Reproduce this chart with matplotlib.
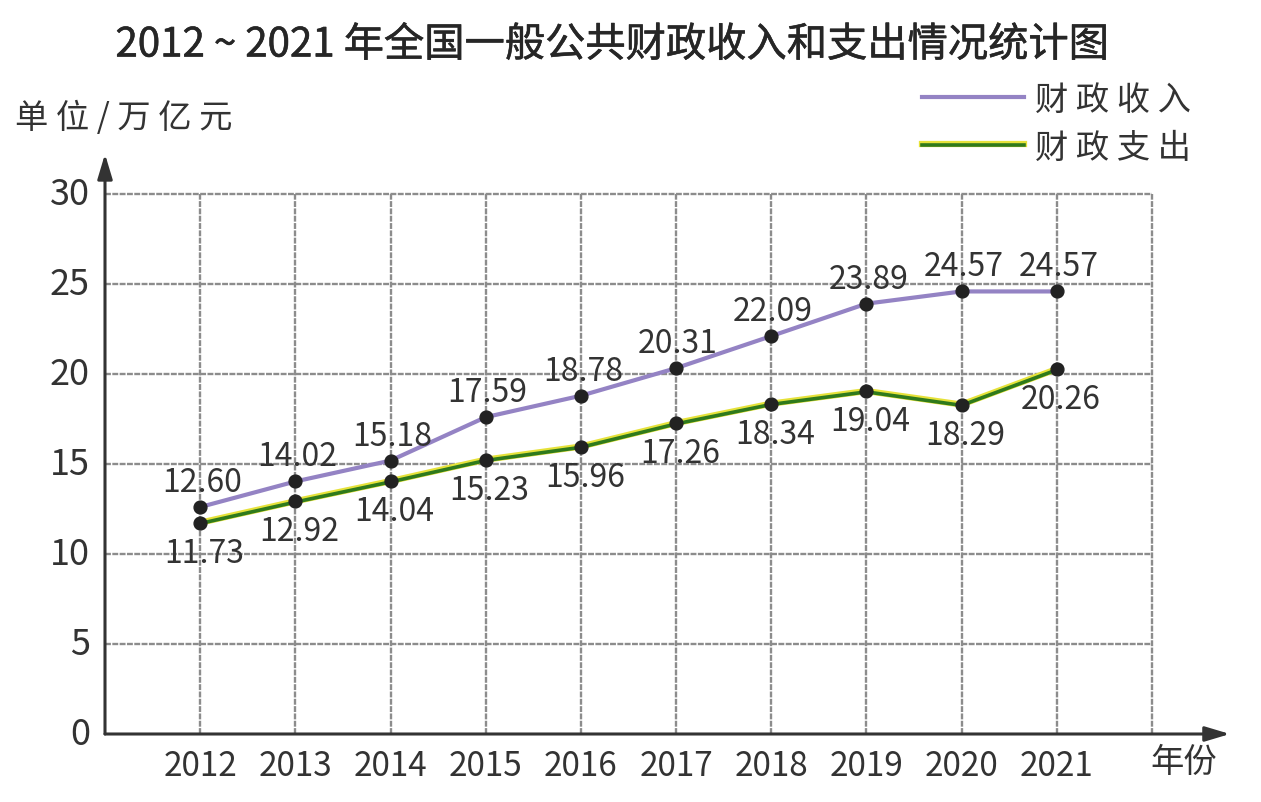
import numpy as np
import matplotlib
matplotlib.use('Agg')
import matplotlib.pyplot as plt
from matplotlib.lines import Line2D
import matplotlib.transforms as mtransforms
import matplotlib.patheffects as pe

plt.rcParams['font.family'] = ['Noto Sans CJK SC', 'DejaVu Sans']

# 数据
years = [2012, 2013, 2014, 2015, 2016, 2017, 2018, 2019, 2020, 2021]
income = [12.60, 14.02, 15.18, 17.59, 18.78, 20.31, 22.09, 23.89, 24.57, 24.57]
expense = [11.73, 12.92, 14.04, 15.23, 15.96, 17.26, 18.34, 19.04, 18.29, 20.26]
y_ticks = [0, 5, 10, 15, 20, 25, 30]

W, H = 1261, 803
fig = plt.figure(figsize=(W / 100, H / 100), dpi=100)
fig.patch.set_facecolor('white')

# 坐标轴区域 (像素换算)
x0, y0, x1, y1 = 105, 735, 1228, 155
ax = fig.add_axes([x0 / W, 1 - y0 / H, (x1 - x0) / W, (y0 - y1) / H])
ax.set_xlim(2011, 2022.8)
ax.set_ylim(0, 32.2)
ax.axis('off')

grid_c = '#8c8c8c'
# 网格线
for yv in y_ticks[1:]:
    ax.plot([2011, 2022], [yv, yv], color=grid_c, lw=1.7, ls=(0, (2.5, 0.6)), zorder=1)
for xv in years + [2022]:
    ax.plot([xv, xv], [0, 30], color=grid_c, lw=1.7, ls=(0, (2.5, 0.6)), zorder=1)

# 坐标轴箭头
ax_c = '#333333'
ax.annotate('', xy=(2022.82, 0), xytext=(2011, 0), annotation_clip=False,
            arrowprops=dict(arrowstyle='-|>,head_length=1.5,head_width=0.45', color=ax_c, lw=2.2,
                            shrinkA=0, shrinkB=0),
            zorder=3)
ax.annotate('', xy=(2011, 32.2), xytext=(2011, 0), annotation_clip=False,
            arrowprops=dict(arrowstyle='-|>,head_length=1.5,head_width=0.45', color=ax_c, lw=2.2,
                            shrinkA=0, shrinkB=0),
            zorder=3)

# y 轴刻度
for yv in y_ticks:
    ax.text(2010.84, yv, str(yv), ha='right', va='center', fontsize=26, color='#333333')
# x 轴刻度
for xv in years:
    ax.text(xv, -1.75, str(xv), ha='center', va='center', fontsize=24, color='#333333')
ax.text(2022.33, -1.5, '年份', ha='center', va='center', fontsize=24, color='#333333')

purple = '#9483c4'
yellow = '#e6e23a'
green = '#2f7a1c'

# 财政收入
ax.plot(years, income, color=purple, lw=3, zorder=4)
# 财政支出 (黄边绿线)
ax.plot(years, expense, color=yellow, lw=4.5, zorder=4)
off = mtransforms.offset_copy(ax.transData, fig=fig, x=0, y=-0.8, units='dots')
ax.plot(years, expense, color=green, lw=2.6, zorder=5, transform=off)

ax.scatter(years, income, s=85, color='#222222', zorder=6)
ax.scatter(years, expense, s=85, color='#222222', zorder=6)

for xv, v in zip(years, income):
    ax.annotate(f'{v:.2f}', (xv, v), xytext=(2, 25), textcoords='offset pixels',
                ha='center', va='center', fontsize=23, color='#333333', zorder=7)
for xv, v in zip(years, expense):
    ax.annotate(f'{v:.2f}', (xv, v), xytext=(4, -30), textcoords='offset pixels',
                ha='center', va='center', fontsize=23, color='#333333', zorder=7)

# 标题和单位
fig.text(612 / W, 1 - 46 / H, '2012 ~ 2021 年全国一般公共财政收入和支出情况统计图',
         ha='center', va='center', fontsize=29, color='#262626',
         path_effects=[pe.withStroke(linewidth=0.4, foreground='#262626')])
fig.text(15 / W, 1 - 118 / H, '单 位 / 万 亿 元', ha='left', va='center', fontsize=24, color='#333333')

# 图例
fig.add_artist(Line2D([922 / W, 1024 / W], [1 - 98 / H, 1 - 98 / H], color=purple, lw=3))
fig.add_artist(Line2D([922 / W, 1024 / W], [1 - 145 / H, 1 - 145 / H], color=yellow, lw=4.5))
fig.add_artist(Line2D([922 / W, 1024 / W], [1 - 145.8 / H, 1 - 145.8 / H], color=green, lw=2.6))
fig.text(1035 / W, 1 - 100 / H, '财 政 收 入', ha='left', va='center', fontsize=24, color='#333333')
fig.text(1035 / W, 1 - 148 / H, '财 政 支 出', ha='left', va='center', fontsize=24, color='#333333')

fig.savefig('out.png', dpi=100, facecolor='white')
